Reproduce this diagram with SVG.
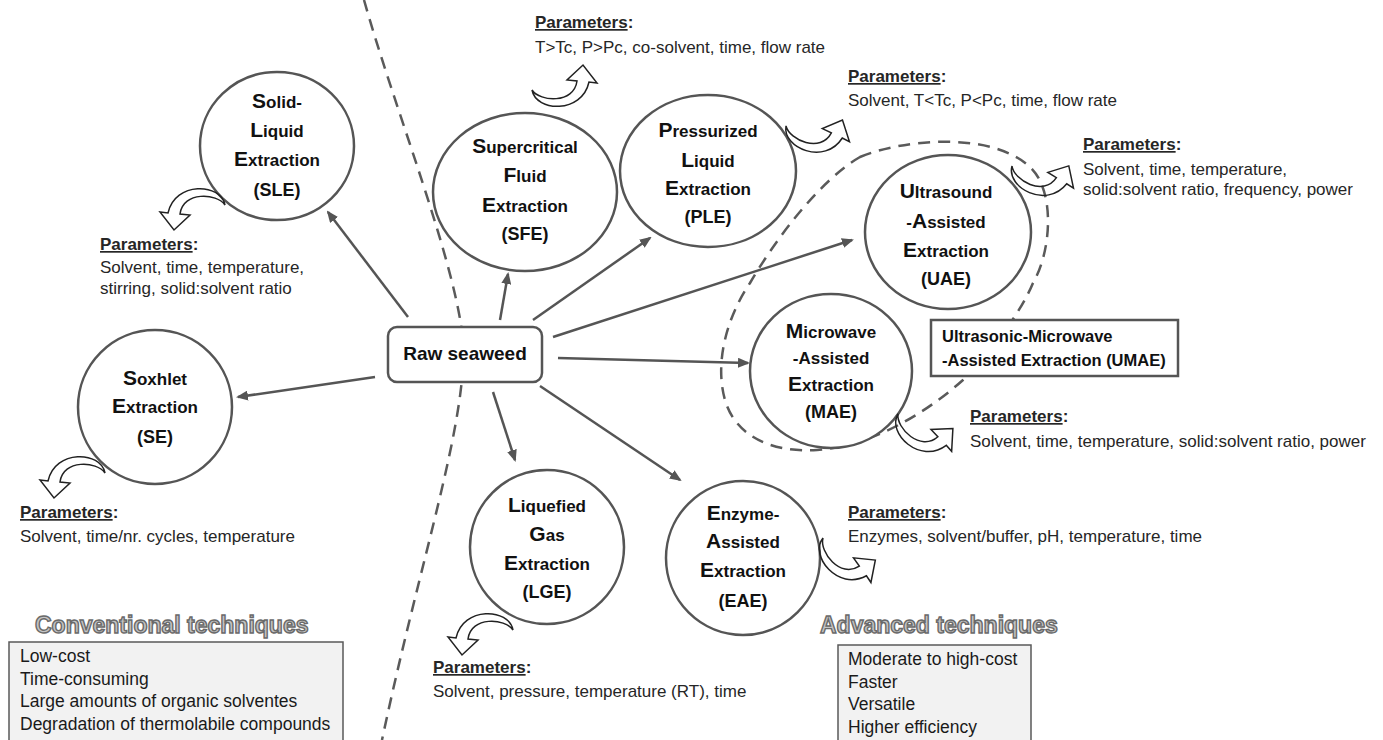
<svg xmlns="http://www.w3.org/2000/svg" width="1383" height="740" viewBox="0 0 1383 740">
<style>
.node ellipse{fill:#fff;stroke:#555;stroke-width:2.5}
.ct{font-family:"Liberation Sans",Arial,sans-serif;font-weight:bold;font-size:17px;fill:#111;text-anchor:middle}
.b{font-size:21px}
.ab{font-family:"Liberation Sans",Arial,sans-serif;font-weight:bold;font-size:18px;fill:#111;text-anchor:middle}
.pt{font-family:"Liberation Sans",Arial,sans-serif;font-size:17px;fill:#262626}
.ph{font-weight:bold}
.u{text-decoration:underline}
.conn line{stroke:#555;stroke-width:2.5;marker-end:url(#ah)}
.dash{fill:none;stroke:#5a5a5a;stroke-width:2.5;stroke-dasharray:12 8}
.carrow{fill:none;stroke:#222;stroke-width:1.5}
.title{font-family:"Liberation Sans",Arial,sans-serif;font-weight:bold;font-size:23px;fill:#c4c4c4;stroke:#6a6a6a;stroke-width:1.4}
.lbox{fill:#f2f2f2;stroke:#595959;stroke-width:1.5}
.lt{font-family:"Liberation Sans",Arial,sans-serif;font-size:17.5px;fill:#1a1a1a}
.bx{fill:#fff;stroke:#555;stroke-width:2.5}
.bt{font-family:"Liberation Sans",Arial,sans-serif;font-weight:bold;font-size:16.5px;fill:#111}
</style>
<defs>
<marker id="ah" markerWidth="12" markerHeight="10" refX="10" refY="5" orient="auto" markerUnits="userSpaceOnUse"><path d="M0,0 L12,5 L0,10 Z" fill="#555"/></marker>
<path id="ca" d="M0,0 C4,22 50,24 57,-8 L65,-7 L51,-25 L35,-10 L45,-9 C42,14 8,12 0,0 Z"/>
</defs>
<rect width="1383" height="740" fill="#fff"/>

<g id="separator">
<path class="dash" d="M364,0 C395,110 455,260 463,340 C468,420 420,560 382,740"/>
</g>
<g id="umae-group-outline">
<path class="dash" d="M860,157 C900,140 990,130 1030,167 C1055,190 1052,250 1033,283 C1022,310 990,355 963,380 C935,405 880,445 817,450 C770,453 735,435 725,400 C715,365 725,320 750,283 C775,240 820,180 860,157 Z"/>
</g>

<g id="connectors" class="conn">
<line x1="408" y1="317" x2="328" y2="212"/>
<line x1="375" y1="377" x2="238" y2="397"/>
<line x1="500" y1="320" x2="508" y2="274"/>
<line x1="533" y1="320" x2="650" y2="238"/>
<line x1="553" y1="337" x2="852" y2="240"/>
<line x1="558" y1="358" x2="748" y2="363"/>
<line x1="493" y1="392" x2="515" y2="460"/>
<line x1="540" y1="386" x2="680" y2="480"/>
</g>

<g id="raw-seaweed">
<rect class="bx" x="388" y="327" width="154" height="55" rx="9"/>
<text x="465" y="360" text-anchor="middle" font-family="Liberation Sans, Arial, sans-serif" font-weight="bold" font-size="19" fill="#111">Raw seaweed</text>
</g>

<g id="sle" class="node">
<ellipse cx="277" cy="146" rx="77" ry="74"/>
<text x="277" y="108" class="ct"><tspan class="b">S</tspan>olid-</text>
<text x="277" y="137" class="ct"><tspan class="b">L</tspan>iquid</text>
<text x="277" y="166" class="ct"><tspan class="b">E</tspan>xtraction</text>
<text x="277" y="196" class="ab">(SLE)</text>
<use href="#ca" class="carrow" transform="translate(225,205) rotate(180)"/>
<text x="100" y="250" class="pt"><tspan class="ph u">Parameters</tspan><tspan class="ph">:</tspan></text>
<text x="100" y="273" class="pt">Solvent, time, temperature,</text>
<text x="100" y="294" class="pt">stirring, solid:solvent ratio</text>
</g>

<g id="se" class="node">
<ellipse cx="155" cy="407" rx="77" ry="77"/>
<text x="155" y="385" class="ct"><tspan class="b">S</tspan>oxhlet</text>
<text x="155" y="413" class="ct"><tspan class="b">E</tspan>xtraction</text>
<text x="155" y="443" class="ab">(SE)</text>
<use href="#ca" class="carrow" transform="translate(105,473) rotate(180)"/>
<text x="20" y="518" class="pt"><tspan class="ph u">Parameters</tspan><tspan class="ph">:</tspan></text>
<text x="20" y="542" class="pt">Solvent, time/nr. cycles, temperature</text>
</g>

<g id="sfe" class="node">
<ellipse cx="525" cy="192" rx="92" ry="79"/>
<text x="525" y="153" class="ct"><tspan class="b">S</tspan>upercritical</text>
<text x="525" y="182" class="ct"><tspan class="b">F</tspan>luid</text>
<text x="525" y="212" class="ct"><tspan class="b">E</tspan>xtraction</text>
<text x="525" y="240" class="ab">(SFE)</text>
<use href="#ca" class="carrow" transform="translate(532,90)"/>
<text x="535" y="28" class="pt"><tspan class="ph u">Parameters</tspan><tspan class="ph">:</tspan></text>
<text x="535" y="53" class="pt">T&gt;Tc, P&gt;Pc, co-solvent, time, flow rate</text>
</g>

<g id="ple" class="node">
<ellipse cx="708" cy="171" rx="88" ry="76"/>
<text x="708" y="137" class="ct"><tspan class="b">P</tspan>ressurized</text>
<text x="708" y="167" class="ct"><tspan class="b">L</tspan>iquid</text>
<text x="708" y="195" class="ct"><tspan class="b">E</tspan>xtraction</text>
<text x="708" y="223" class="ab">(PLE)</text>
<use href="#ca" class="carrow" transform="translate(786,126) rotate(20)"/>
<text x="848" y="82" class="pt"><tspan class="ph u">Parameters</tspan><tspan class="ph">:</tspan></text>
<text x="848" y="106" class="pt">Solvent, T&lt;Tc, P&lt;Pc, time, flow rate</text>
</g>

<g id="uae" class="node">
<ellipse cx="948" cy="232" rx="83" ry="77"/>
<text x="946" y="198" class="ct"><tspan class="b">U</tspan>ltrasound</text>
<text x="946" y="228" class="ct">-<tspan class="b">A</tspan>ssisted</text>
<text x="946" y="257" class="ct"><tspan class="b">E</tspan>xtraction</text>
<text x="946" y="285" class="ab">(UAE)</text>
<use href="#ca" class="carrow" transform="translate(1012,166) rotate(26)"/>
<text x="1083" y="150" class="pt"><tspan class="ph u">Parameters</tspan><tspan class="ph">:</tspan></text>
<text x="1083" y="175" class="pt">Solvent, time, temperature,</text>
<text x="1083" y="195" class="pt">solid:solvent ratio, frequency, power</text>
</g>

<g id="mae" class="node">
<ellipse cx="831" cy="371" rx="81" ry="77"/>
<text x="831" y="338" class="ct"><tspan class="b">M</tspan>icrowave</text>
<text x="831" y="364" class="ct">-Assisted</text>
<text x="831" y="391" class="ct"><tspan class="b">E</tspan>xtraction</text>
<text x="831" y="418" class="ab">(MAE)</text>
<use href="#ca" class="carrow" transform="translate(898,414) rotate(41)"/>
<text x="970" y="422" class="pt"><tspan class="ph u">Parameters</tspan><tspan class="ph">:</tspan></text>
<text x="970" y="447" class="pt">Solvent, time, temperature, solid:solvent ratio, power</text>
</g>

<g id="umae">
<rect class="bx" x="931" y="320" width="247" height="56"/>
<text x="942" y="342" class="bt">Ultrasonic-Microwave</text>
<text x="942" y="366" class="bt">-Assisted Extraction (UMAE)</text>
</g>

<g id="lge" class="node">
<ellipse cx="547" cy="547" rx="77" ry="77"/>
<text x="547" y="512" class="ct"><tspan class="b">L</tspan>iquefied</text>
<text x="547" y="541" class="ct"><tspan class="b">G</tspan>as</text>
<text x="547" y="570" class="ct"><tspan class="b">E</tspan>xtraction</text>
<text x="547" y="598" class="ab">(LGE)</text>
<use href="#ca" class="carrow" transform="translate(513,630) rotate(180)"/>
<text x="433" y="673" class="pt"><tspan class="ph u">Parameters</tspan><tspan class="ph">:</tspan></text>
<text x="433" y="697" class="pt">Solvent, pressure, temperature (RT), time</text>
</g>

<g id="eae" class="node">
<ellipse cx="743" cy="558" rx="77" ry="77"/>
<text x="743" y="520" class="ct"><tspan class="b">E</tspan>nzyme-</text>
<text x="743" y="548" class="ct"><tspan class="b">A</tspan>ssisted</text>
<text x="743" y="577" class="ct"><tspan class="b">E</tspan>xtraction</text>
<text x="743" y="607" class="ab">(EAE)</text>
<use href="#ca" class="carrow" transform="translate(823,538) rotate(49)"/>
<text x="848" y="518" class="pt"><tspan class="ph u">Parameters</tspan><tspan class="ph">:</tspan></text>
<text x="848" y="542" class="pt">Enzymes, solvent/buffer, pH, temperature, time</text>
</g>

<g id="conventional">
<text x="35" y="633" class="title">Conventional techniques</text>
<rect class="lbox" x="9" y="642" width="334" height="110"/>
<text x="20" y="662" class="lt">Low-cost</text>
<text x="20" y="685" class="lt">Time-consuming</text>
<text x="20" y="707" class="lt">Large amounts of organic solventes</text>
<text x="20" y="730" class="lt">Degradation of thermolabile compounds</text>
</g>

<g id="advanced">
<text x="820" y="633" class="title">Advanced techniques</text>
<rect class="lbox" x="838" y="645" width="193" height="110"/>
<text x="848" y="665" class="lt">Moderate to high-cost</text>
<text x="848" y="688" class="lt">Faster</text>
<text x="848" y="710" class="lt">Versatile</text>
<text x="848" y="733" class="lt">Higher efficiency</text>
</g>
</svg>
